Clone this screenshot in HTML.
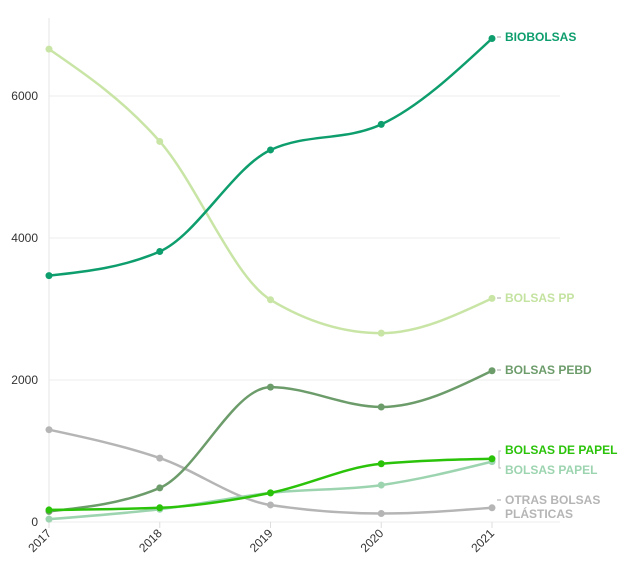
<!DOCTYPE html>
<html><head><meta charset="utf-8"><style>
body{margin:0;background:#fff;}
svg{display:block;font-family:"Liberation Sans",sans-serif;}
</style></head><body>
<svg id="chart" width="628" height="575"></svg>
<script>
const years=["2017","2018","2019","2020","2021"];
const yTicks=[0,2000,4000,6000];
const seriesNames=["BIOBOLSAS","BOLSAS PP","BOLSAS PEBD","BOLSAS DE PAPEL","BOLSAS PAPEL","OTRAS BOLSAS PLÁSTICAS"];
const bioValues=[3470,3810,5240,5600,6810];
const ppValues=[6660,5360,3130,2660,3150];
const pebdValues=[150,480,1900,1620,2130];
const dePapelValues=[170,200,410,820,890];
const papelValues=[40,180,410,520,850];
const otrasValues=[1300,900,240,120,200];
const allValues=[bioValues,ppValues,pebdValues,dePapelValues,papelValues,otrasValues];
const colors=["#0e9e6e","#c9e5a6","#6d9c6b","#2bc30a","#9dd4b0","#b5b5b5"];
const labelY=[37,298,370,450,470,500];
const names=["biobolsas","bolsas-pp","bolsas-pebd","bolsas-de-papel","bolsas-papel","otras-bolsas-plasticas"];

const NS="http://www.w3.org/2000/svg";
const svg=document.getElementById('chart');
const x0=49,x1=492,yBase=522,pxPer=142/2000;
const xs=i=>x0+i*(x1-x0)/(years.length-1);
const ys=v=>yBase-v*pxPer;
function mk(t,a,p){const e=document.createElementNS(NS,t);for(const k in a)e.setAttribute(k,a[k]);(p||svg).appendChild(e);return e;}

yTicks.forEach(t=>{
  const g=mk('line',{x1:x0,x2:560,y1:ys(t),y2:ys(t),stroke:'#eee','stroke-width':1});
  
  
  const tx=mk('text',{x:38,y:ys(t)+4,'text-anchor':'end','font-size':12,fill:'#333'});
  tx.textContent=t;
  
  
});
const ax=mk('line',{x1:x0,x2:x0,y1:18,y2:yBase,stroke:'#e6e6e6'});


years.forEach((y,i)=>{
  const tk=mk('line',{x1:xs(i),x2:xs(i),y1:yBase,y2:yBase+6,stroke:'#ddd'});
  
  
  const tx=mk('text',{x:xs(i)+3,y:yBase+12,'text-anchor':'end','font-size':12,fill:'#333',transform:`rotate(-45 ${xs(i)+3} ${yBase+12})`});
  tx.textContent=y;
  
  
});
// monotone X interpolation (like d3.curveMonotoneX)
function pathD(pts){
  const n=pts.length,m=[],dx=[],sl=[];
  for(let i=0;i<n-1;i++){dx[i]=pts[i+1][0]-pts[i][0];sl[i]=(pts[i+1][1]-pts[i][1])/dx[i];}
  for(let i=1;i<n-1;i++){
    const s0=sl[i-1],s1=sl[i];
    if(s0*s1<=0)m[i]=0;
    else{const p=(s0*dx[i]+s1*dx[i-1])/(dx[i-1]+dx[i]);
      m[i]=(Math.sign(s0)+Math.sign(s1))*Math.min(Math.abs(s0),Math.abs(s1),0.5*Math.abs(p));}
  }
  m[0]=(3*sl[0]-m[1])/2; m[n-1]=(3*sl[n-2]-m[n-2])/2;
  let d=`M${pts[0][0]},${pts[0][1]}`;
  for(let i=0;i<n-1;i++){
    const h=dx[i]/3;
    d+=`C${pts[i][0]+h},${pts[i][1]+m[i]*h} ${pts[i+1][0]-h},${pts[i+1][1]-m[i+1]*h} ${pts[i+1][0]},${pts[i+1][1]}`;
  }
  return d;
}
const order=[5,1,2,4,3,0];
order.forEach(s=>{
  const vals=allValues[s];
  const pts=vals.map((v,i)=>[xs(i),ys(v)]);
  const p=mk('path',{d:pathD(pts),fill:'none',stroke:colors[s],'stroke-width':2.5});
  
  
  pts.forEach(pt=>{
    const c=mk('circle',{cx:pt[0],cy:pt[1],r:3.5,fill:colors[s]});
    
    
  });
});
seriesNames.forEach((n,s)=>{
  const ly=labelY[s];
  if(s!==3&&s!==4){
    const l=mk('line',{x1:497,x2:501,y1:ly,y2:ly,stroke:'#aaa'});
    
    
  }
  const t=mk('text',{x:505,y:ly+4,'font-size':12,'font-weight':'bold',fill:colors[s]==="#c9e5a6"?"#c4e3a0":colors[s]});
  if(s===5){
    const a=mk('tspan',{x:505},t);a.textContent='OTRAS BOLSAS';
    const b=mk('tspan',{x:505,dy:14},t);b.textContent='PLÁSTICAS';
  } else t.textContent=n;
  
  
});
const br=mk('path',{d:'M501,451 h-2 v17 h2',fill:'none',stroke:'#bbb'});


</script>
</body></html>
